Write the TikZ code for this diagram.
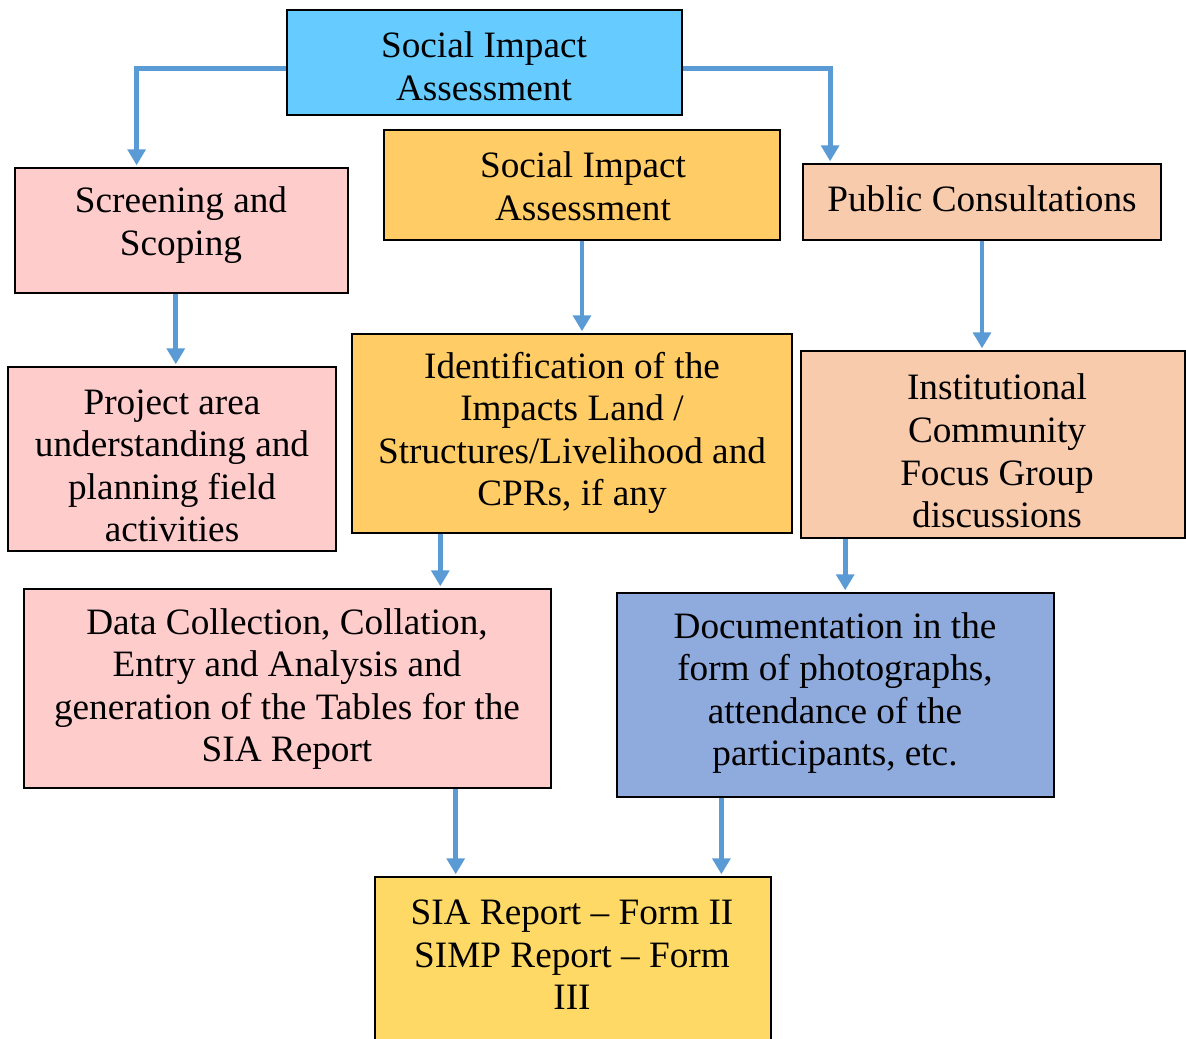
\documentclass[tikz,border=0pt]{standalone}
\usepackage{fontspec}
\setmainfont{Liberation Serif}
\usetikzlibrary{arrows.meta,calc,fit}
\definecolor{cTop}{HTML}{66CCFF}
\definecolor{cPink}{HTML}{FFCCCC}
\definecolor{cOrange}{HTML}{FFCC66}
\definecolor{cPeach}{HTML}{F8CBAD}
\definecolor{cBlue}{HTML}{8FAADC}
\definecolor{cYellow}{HTML}{FFD966}
\definecolor{cArrow}{HTML}{5B9BD5}
\begin{document}
\begin{tikzpicture}[x=0.02cm,y=-0.02cm,
  box/.style={draw=black,line width=1.1pt,inner sep=0pt,rectangle},
  txt/.style={inner sep=0pt,align=center,font=\fontsize{21.2}{24.2}\selectfont},
  arr/.style={draw=cArrow,line width=2.8pt,-{Triangle[width=10pt,length=9pt]},shorten >=1pt}]
\useasboundingbox (0,0) rectangle (1186,1038);
% boxes
\node[box,fill=cTop,fit={(287,10)(682,115)}] (b1) {};
\node[box,fill=cPink,fit={(15,168)(348,293)}] (b2) {};
\node[box,fill=cOrange,fit={(384,130)(780,240)}] (b3) {};
\node[box,fill=cPeach,fit={(803,164)(1161,240)}] (b4) {};
\node[box,fill=cPink,fit={(8,367)(336,551)}] (b5) {};
\node[box,fill=cOrange,fit={(352,334)(792,533)}] (b6) {};
\node[box,fill=cPeach,fit={(801,351)(1185,538)}] (b7) {};
\node[box,fill=cPink,fit={(24,589)(551,788)}] (b8) {};
\node[box,fill=cBlue,fit={(617,593)(1054,797)}] (b9) {};
\node[box,fill=cYellow,fit={(375,877)(771,1050)}] (b10) {};
% texts
\node[txt] (t1) at (484,66) {Social Impact\\Assessment};
\node[txt] (t2) at (181,225) {Screening and\\Scoping};
\node[txt] (t3) at (583,186) {Social Impact\\Assessment};
\node[txt] (t4) at (982,199) {Public Consultations};
\node[txt] (t5) at (172,466) {Project area\\understanding and\\planning field\\activities};
\node[txt] (t6) at (572,433) {Identification of the\\Impacts Land /\\Structures/Livelihood and\\CPRs, if any};
\node[txt] (t7) at (997,451) {Institutional\\Community\\Focus Group\\discussions};
\node[txt] (t8) at (287,689) {Data Collection, Collation,\\Entry and Analysis and\\generation of the Tables for the\\SIA Report};
\node[txt] (t9) at (835,693) {Documentation in the\\form of photographs,\\attendance of the\\participants, etc.};
\node[txt] (t10) at (572,955) {SIA Report -- Form II\\SIMP Report -- Form\\III};
% connectors
\coordinate (s1) at ($(b1.north west)!0.552!(b1.south west)$);
\coordinate (e1) at ($(b2.north west)!0.366!(b2.north east)$);
\draw[arr] (s1) -| (e1);
\coordinate (s2) at ($(b1.north east)!0.552!(b1.south east)$);
\coordinate (e2) at ($(b4.north west)!0.078!(b4.north east)$);
\draw[arr] (s2) -| (e2);
\coordinate (s3) at ($(b2.south west)!0.483!(b2.south east)$);
\draw[arr] (s3) -- (s3 |- b5.north);
\draw[arr] (b3.south) -- (b3.south |- b6.north);
\draw[arr] (b4.south) -- (b4.south |- b7.north);
\coordinate (s6) at ($(b6.south west)!0.202!(b6.south east)$);
\draw[arr] (s6) -- (s6 |- b8.north);
\coordinate (s7) at ($(b7.south west)!0.117!(b7.south east)$);
\draw[arr] (s7) -- (s7 |- b9.north);
\coordinate (s8) at ($(b8.south west)!0.818!(b8.south east)$);
\draw[arr] (s8) -- (s8 |- b10.north);
\coordinate (s9) at ($(b9.south west)!0.240!(b9.south east)$);
\draw[arr] (s9) -- (s9 |- b10.north);
\end{tikzpicture}
\end{document}
